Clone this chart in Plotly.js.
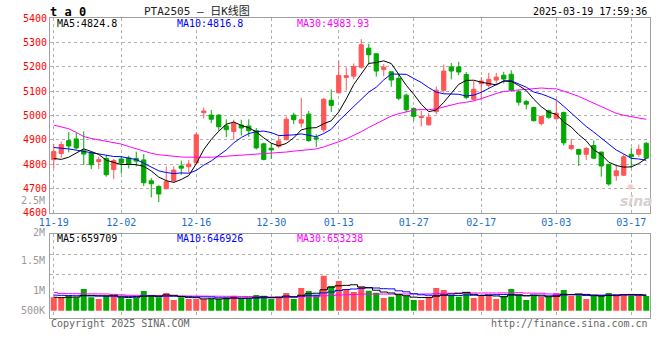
<!DOCTYPE html>
<html><head><meta charset="utf-8">
<script src="https://cdn.plot.ly/plotly-3.0.1.min.js"></script>
<style>html,body{margin:0;padding:0;background:#fff;}#chart{width:660px;height:360px;}</style>
</head><body><div id="chart"></div>
<script>
const dates = ['11-19','11-20','11-21','11-22','11-25','11-26','11-27','11-28','11-29',
'12-02','12-03','12-04','12-05','12-06','12-09','12-10','12-11','12-12','12-13','12-16','12-17','12-18','12-19','12-20','12-23','12-24','12-25','12-26','12-27','12-30','12-31',
'01-02','01-03','01-06','01-07','01-08','01-09','01-10','01-13','01-14','01-15','01-16','01-17','01-20','01-21','01-22','01-23','01-24','01-27',
'02-05','02-06','02-07','02-10','02-11','02-12','02-13','02-14','02-17','02-18','02-19','02-20','02-21','02-24','02-25','02-26','02-27','02-28',
'03-03','03-04','03-05','03-06','03-07','03-10','03-11','03-12','03-13','03-14','03-17','03-18','03-19'];

const open = [4818,4843,4896,4903,4855,4845,4810,4823,4777,4821,4825,4823,4817,4731,4708,4698,4731,4792,4789,4805,
5011,5001,5001,4957,4934,4960,4956,4937,4883,4865,4873,4900,5001,4968,5005,4908,4941,5062,5093,5156,
5161,5198,5276,5253,5188,5179,5152,5083,5028,4991,4961,5015,5103,5199,5199,5168,5066,5130,5123,5145,
5165,5169,5097,5057,5032,4966,5019,4986,5012,4863,4860,4840,4876,4849,4799,4752,4754,4840,4840,4885];
const high = [4883,4892,4932,4928,4934,4848,4830,4837,4821,4834,4834,4851,4841,4742,4713,4790,4790,4814,4817,4928,
5032,5022,5005,4984,4982,4982,4984,4948,4887,4887,4914,4995,5011,5072,5018,4923,5072,5106,5224,5197,
5213,5313,5294,5253,5211,5179,5168,5089,5033,5019,5008,5118,5209,5215,5220,5178,5141,5157,5175,5175,
5179,5185,5104,5063,5036,4998,5023,5063,5015,4904,4862,4870,4897,4851,4801,4792,4840,4867,4880,4890];
const low = [4783,4826,4848,4860,4796,4779,4779,4748,4738,4761,4782,4790,4710,4663,4644,4698,4724,4756,4765,4800,
4987,4968,4937,4910,4900,4917,4912,4860,4815,4822,4865,4900,4964,4950,4892,4869,4930,5014,5089,5102,
5148,5192,5209,5159,5161,5118,5062,5012,4978,4954,4958,5005,5093,5148,5165,5066,5060,5060,5114,5127,
5131,5097,5040,5025,4975,4958,4986,4982,4876,4857,4792,4817,4820,4748,4711,4731,4751,4783,4830,4822];
const close = [4851,4880,4874,4866,4841,4797,4818,4756,4814,4804,4800,4812,4723,4719,4677,4728,4775,4783,4800,4920,
5018,4984,4953,4941,4967,4948,4937,4866,4819,4858,4895,4984,4982,4982,4896,4903,5066,5041,5164,5163,
5201,5290,5249,5182,5198,5145,5070,5023,4996,4995,4992,5103,5182,5182,5178,5073,5107,5141,5148,5157,
5149,5104,5054,5046,4978,4996,4992,5009,4887,4876,4840,4864,4824,4792,4718,4772,4830,4830,4860,4824];
const volume = [556000,556000,612000,556000,904000,556000,487000,612000,626000,556000,
487000,528000,820000,653000,556000,737000,445000,556000,487000,487000,
487000,487000,487000,556000,626000,487000,487000,653000,626000,487000,
556000,737000,487000,945000,820000,653000,1460000,1029000,1237000,904000,
778000,1001000,834000,751000,528000,584000,653000,612000,445000,445000,
584000,945000,862000,653000,584000,778000,528000,626000,653000,487000,
612000,904000,653000,445000,653000,584000,584000,737000,862000,612000,
695000,487000,612000,653000,737000,653000,653000,695000,626000,612000];

// moving-average values before enough history exists
const ma5Head = [4823,4819,4828,4845];
const ma10Head = [4868,4866,4862,4857,4852,4846,4840,4835,4831];
const ma30Head = [4960,4952,4945,4930,4913,4905,4900,4895,4888,4882,4872,4862,4852,4844,4838,4834,4831,4829,4828,4827,4827,4828,4830,4832,4834,4836,4838,4840,4842];
const volMa5Head = [560000,545000,560000,570000];
const volMa10Head = [650000,640000,632000,625000,620000,615000,610000,606000,603000];
const volMa30Head = [760000,720000,712000,708000,705000,702000,700000,695000,680000,660000,645000,640000,638000,636000,632000,628000,622000,615000,612000,610000,608000,605000,603000,600000,598000,595000,590000,585000,580000];

const tickLabels = ['11-19','12-02','12-16','12-30','01-13','01-27','02-17','03-03','03-17'];
const priceTicks = [4600,4700,4800,4900,5000,5100,5200,5300,5400];
const volTickText = ['2.5M','2M','1.5M','1M','500K'];
const maLegend = ['MA5:4824.8','MA10:4816.8','MA30:4983.93'];
const volLegend = ['MA5:659709','MA10:646926','MA30:653238'];

function movingAvg(vals, n, head){
  return vals.map((v,i)=> i < n-1 ? head[i] : vals.slice(i-n+1,i+1).reduce((a,b)=>a+b,0)/n);
}

const RED='#ff5555', GREEN='#00a800';
const MONO='DejaVu Sans Mono, monospace';
const W=660,H=360;
const px=x=>x/W, py=y=>1-y/H;

const traces = [
  {type:'candlestick', x:dates, open:open, high:high, low:low, close:close, xaxis:'x', yaxis:'y',
   increasing:{line:{color:RED,width:1}, fillcolor:RED},
   decreasing:{line:{color:GREEN,width:1}, fillcolor:GREEN},
   whiskerwidth:0, hoverinfo:'skip'},
  {type:'scatter', mode:'lines', x:dates, y:movingAvg(close,30,ma30Head), line:{color:'#ff00ff',width:1}, xaxis:'x', yaxis:'y', hoverinfo:'skip'},
  {type:'scatter', mode:'lines', x:dates, y:movingAvg(close,10,ma10Head), line:{color:'#0000ff',width:1}, xaxis:'x', yaxis:'y', hoverinfo:'skip'},
  {type:'scatter', mode:'lines', x:dates, y:movingAvg(close,5,ma5Head), line:{color:'#000000',width:1}, xaxis:'x', yaxis:'y', hoverinfo:'skip'},
  {type:'bar', x:dates, y:volume, marker:{color:close.map((c,i)=>c>open[i]?RED:GREEN), line:{width:0}}, xaxis:'x2', yaxis:'y2', hoverinfo:'skip'},
  {type:'scatter', mode:'lines', x:dates, y:movingAvg(volume,30,volMa30Head), line:{color:'#ff00ff',width:1,shape:'hvh'}, xaxis:'x2', yaxis:'y2', hoverinfo:'skip'},
  {type:'scatter', mode:'lines', x:dates, y:movingAvg(volume,10,volMa10Head), line:{color:'#0000ff',width:1,shape:'hvh'}, xaxis:'x2', yaxis:'y2', hoverinfo:'skip'},
  {type:'scatter', mode:'lines', x:dates, y:movingAvg(volume,5,volMa5Head), line:{color:'#000000',width:1,shape:'hvh'}, xaxis:'x2', yaxis:'y2', hoverinfo:'skip'}
];

const gridCommon = {showgrid:true, gridcolor:'#b0b0b0', griddash:'dot', gridwidth:1, showline:true, mirror:true, linecolor:'#a0a0a0', linewidth:1, zeroline:false, fixedrange:true, ticks:''};

function ann(text, x, y, color, size, xanchor, extra){
  return Object.assign({text:text, x:px(x), y:py(y), xref:'paper', yref:'paper', showarrow:false,
    xanchor:xanchor||'left', yanchor:'middle', font:{family:MONO, size:size||10, color:color}}, extra||{});
}

const annotations = [
  ann('<b>t a 0</b>', 48, 11.5, '#000', 12, 'left'),
  ann('PTA2505 — 日K线图', 197, 10.5, '#222', 11, 'center', {font:{family:'DejaVu Sans Mono, Noto Sans CJK SC', size:11, color:'#222'}}),
  ann('2025-03-19 17:59:36', 649, 12, '#000', 10, 'right'),
  ann(maLegend[0], 55, 23.5, '#000', 10),
  ann(maLegend[1], 175, 23.5, '#0000ff', 10),
  ann(maLegend[2], 295, 23.5, '#ff00ff', 10),
  ann(volLegend[0], 55, 238.5, '#000', 10),
  ann(volLegend[1], 175, 238.5, '#0000ff', 10),
  ann(volLegend[2], 295, 238.5, '#ff00ff', 10),
  ann('Copyright 2025 SINA.COM', 49, 323.5, '#666', 10),
  ann('http://finance.sina.com.cn', 650, 323.5, '#666', 10, 'right'),
  ann('<i><b>sina</b></i>', 636, 201, '#d8d0d0', 14, 'center', {font:{family:'DejaVu Sans', size:14, color:'#d8d0d0'}}),
  ann('◉', 630, 186, '#f2c4c4', 8, 'center', {font:{family:'DejaVu Sans', size:8, color:'#f2c4c4'}})
];
const volLabelY = [200.5, 232.5, 260.7, 290.7, 310.7];
volTickText.forEach((t,i)=>annotations.push(ann(t, 46.5, volLabelY[i], '#999', 10, 'right')));

const layout = {
  width:W, height:H, margin:{l:0,r:0,t:0,b:0}, paper_bgcolor:'#fff', plot_bgcolor:'#fff',
  showlegend:false, hovermode:false, dragmode:false, boxgap:0.2, bargap:0.2,
  xaxis: Object.assign({}, gridCommon, {domain:[px(50),px(650)], type:'category', range:[-0.5,79.5],
     tickvals:tickLabels, ticktext:tickLabels, tickfont:{family:MONO,size:10,color:'#1c6fc8'},
     rangeslider:{visible:false}, anchor:'y'}),
  yaxis: Object.assign({}, gridCommon, {domain:[py(212.7),py(18)], range:[4600,5400], tickvals:priceTicks,
     tickfont:{family:MONO,size:10,color:'#ff0000'}, anchor:'x'}),
  xaxis2: Object.assign({}, gridCommon, {domain:[px(50),px(650)], type:'category', range:[-0.5,79.5],
     tickvals:tickLabels, showticklabels:false, anchor:'y2'}),
  yaxis2: Object.assign({}, gridCommon, {domain:[py(318.3),py(234.3)], range:[-317000,3186000],
     tickvals:[1489000,2323000], showticklabels:false, anchor:'x2'}),
  annotations: annotations
};
Plotly.newPlot('chart', traces, layout, {staticPlot:true, displayModeBar:false});
</script></body></html>
